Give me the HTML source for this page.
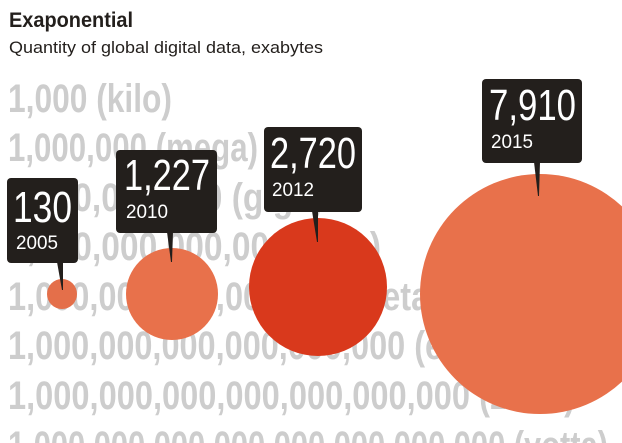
<!DOCTYPE html>
<html><head><meta charset="utf-8"><style>
html,body{margin:0;padding:0;background:#fff;width:622px;height:443px;overflow:hidden;}
svg{display:block;font-family:"Liberation Sans",sans-serif;overflow:hidden;}
</style></head><body>
<svg width="622" height="443" viewBox="0 0 622 443" xmlns="http://www.w3.org/2000/svg">
<rect width="622" height="443" fill="#fff"/>
<text x="9" y="27" font-size="21" font-weight="bold" fill="#231f1c" textLength="124" lengthAdjust="spacingAndGlyphs">Exaponential</text>
<text x="9" y="53" font-size="17" fill="#231f1c" textLength="314" lengthAdjust="spacingAndGlyphs">Quantity of global digital data, exabytes</text>
<g font-size="40" font-weight="bold" fill="#cdcdcd">
<text x="8" y="112" textLength="164" lengthAdjust="spacingAndGlyphs">1,000 (kilo)</text>
<text x="8" y="161" textLength="250" lengthAdjust="spacingAndGlyphs">1,000,000 (mega)</text>
<text x="8" y="211" textLength="315" lengthAdjust="spacingAndGlyphs">1,000,000,000 (giga)</text>
<text x="8" y="260" textLength="373" lengthAdjust="spacingAndGlyphs">1,000,000,000,000 (tera)</text>
<text x="8" y="310" textLength="432" lengthAdjust="spacingAndGlyphs">1,000,000,000,000,000 (peta)</text>
<text x="8" y="359" textLength="482" lengthAdjust="spacingAndGlyphs">1,000,000,000,000,000,000 (exa)</text>
<text x="8" y="409" textLength="567" lengthAdjust="spacingAndGlyphs">1,000,000,000,000,000,000,000 (zetta)</text>
<text x="8" y="459" textLength="600" lengthAdjust="spacingAndGlyphs">1,000,000,000,000,000,000,000,000 (yotta)</text>
</g>
<circle cx="62" cy="294" r="15" fill="#e46f4a"/>
<circle cx="172" cy="294" r="46" fill="#e8714b"/>
<circle cx="318" cy="287" r="69" fill="#d9391c"/>
<circle cx="540" cy="294" r="120" fill="#e8714b"/>
<g fill="#231f1c">
<polygon points="57,262 63,262 63,290 62,290"/>
<polygon points="167,232 173,232 172,262 171,262"/>
<polygon points="312,211 318,211 318,242 317,242"/>
<polygon points="534,162 540,162 539,196 538,196"/>
<rect x="7" y="178" width="71" height="85" rx="4"/>
<rect x="116" y="150" width="101" height="83" rx="4"/>
<rect x="264" y="127" width="98" height="85" rx="4"/>
<rect x="482" y="79" width="100" height="84" rx="4"/>
</g>
<g fill="#fff">
<text x="13" y="222" font-size="44" textLength="59" lengthAdjust="spacingAndGlyphs">130</text>
<text x="16" y="249" font-size="19" textLength="42" lengthAdjust="spacingAndGlyphs">2005</text>
<text x="124" y="190" font-size="44" textLength="86" lengthAdjust="spacingAndGlyphs">1,227</text>
<text x="126" y="218" font-size="19" textLength="42" lengthAdjust="spacingAndGlyphs">2010</text>
<text x="270" y="168" font-size="44" textLength="86" lengthAdjust="spacingAndGlyphs">2,720</text>
<text x="272" y="196" font-size="19" textLength="42" lengthAdjust="spacingAndGlyphs">2012</text>
<text x="489" y="120" font-size="44" textLength="87" lengthAdjust="spacingAndGlyphs">7,910</text>
<text x="491" y="148" font-size="19" textLength="42" lengthAdjust="spacingAndGlyphs">2015</text>
</g>
</svg>
</body></html>
